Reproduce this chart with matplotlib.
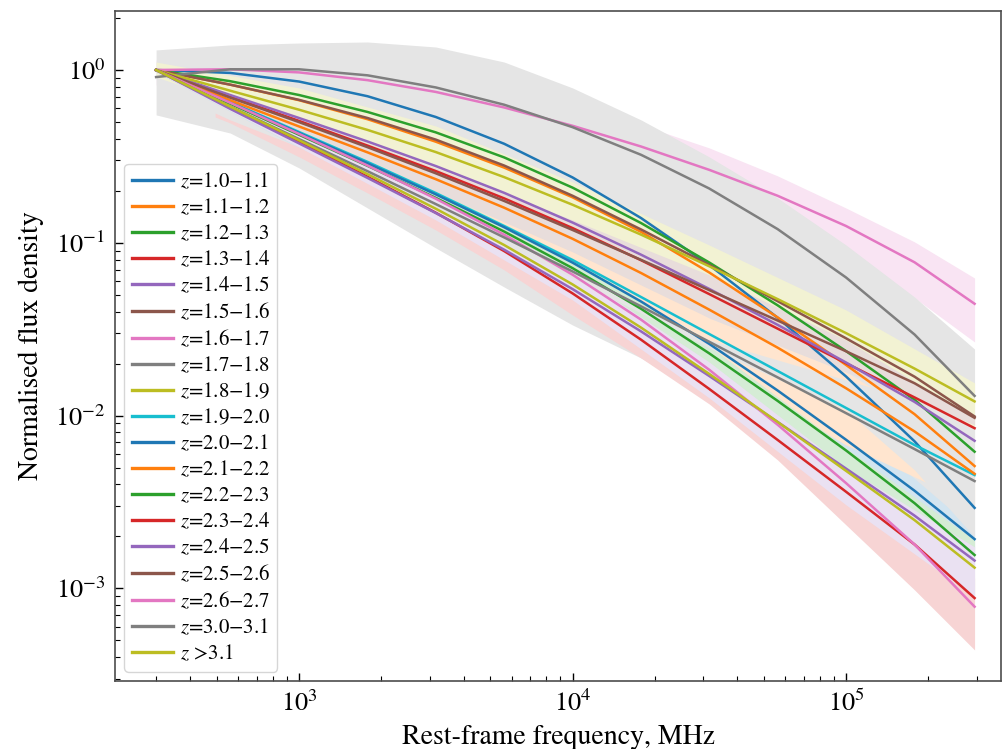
import matplotlib
matplotlib.use('Agg')
import matplotlib.pyplot as plt
import matplotlib.colors as mcolors
import numpy as np

plt.rcParams['font.family'] = 'STIXGeneral'
plt.rcParams['mathtext.fontset'] = 'stix'

# ── Data (log10 of normalised flux density) ───────────────────────────────────
freq_mhz = [300, 560, 1000, 1780, 3160, 5620, 10000, 17800, 31600, 56200,
            100000, 178000, 295000]

z10_11 = [0, -0.017, -0.067, -0.152, -0.272, -0.427, -0.622, -0.857, -1.129, -1.434, -1.774, -2.149, -2.534]
z11_12 = [0, -0.085, -0.175, -0.285, -0.415, -0.565, -0.737, -0.937, -1.172, -1.432, -1.707, -1.992, -2.292]
z12_13 = [0, -0.065, -0.145, -0.243, -0.361, -0.506, -0.681, -0.886, -1.114, -1.362, -1.627, -1.909, -2.209]
z13_14 = [0, -0.155, -0.295, -0.438, -0.585, -0.743, -0.915, -1.101, -1.297, -1.497, -1.697, -1.895, -2.073]
z14_15 = [0, -0.145, -0.278, -0.414, -0.556, -0.711, -0.883, -1.069, -1.267, -1.475, -1.693, -1.921, -2.146]
z15_16 = [0, -0.085, -0.173, -0.278, -0.403, -0.553, -0.728, -0.923, -1.128, -1.338, -1.553, -1.775, -2.005]
z16_17 = [0, 0.004, -0.014, -0.059, -0.127, -0.217, -0.323, -0.443, -0.578, -0.728, -0.903, -1.113, -1.353]
z17_18 = [-0.041, 0.004, 0.004, -0.031, -0.101, -0.201, -0.331, -0.491, -0.686, -0.921, -1.201, -1.531, -1.886]
z18_19 = [0, -0.120, -0.230, -0.347, -0.475, -0.620, -0.780, -0.953, -1.136, -1.326, -1.523, -1.728, -1.918]
z19_20 = [0, -0.185, -0.359, -0.532, -0.712, -0.903, -1.100, -1.314, -1.528, -1.742, -1.956, -2.170, -2.344]
z20_21 = [0, -0.190, -0.365, -0.540, -0.720, -0.910, -1.115, -1.340, -1.585, -1.855, -2.140, -2.435, -2.715]
z21_22 = [0, -0.175, -0.327, -0.477, -0.632, -0.797, -0.977, -1.175, -1.387, -1.607, -1.842, -2.092, -2.337]
z22_23 = [0, -0.195, -0.375, -0.555, -0.740, -0.935, -1.147, -1.382, -1.640, -1.915, -2.202, -2.507, -2.807]
z23_24 = [0, -0.215, -0.415, -0.618, -0.826, -1.048, -1.293, -1.561, -1.846, -2.141, -2.441, -2.746, -3.056]
z24_25 = [0, -0.225, -0.425, -0.625, -0.828, -1.040, -1.268, -1.513, -1.771, -2.037, -2.307, -2.579, -2.839]
z25_26 = [0, -0.160, -0.302, -0.447, -0.598, -0.758, -0.926, -1.099, -1.274, -1.450, -1.628, -1.813, -2.013]
z26_27 = [0, -0.190, -0.370, -0.553, -0.745, -0.953, -1.185, -1.445, -1.735, -2.053, -2.391, -2.746, -3.106]
z30_31 = [0, -0.212, -0.400, -0.586, -0.776, -0.969, -1.166, -1.368, -1.573, -1.779, -1.986, -2.194, -2.379]
z31_up = [0, -0.212, -0.407, -0.603, -0.803, -1.013, -1.241, -1.491, -1.759, -2.037, -2.320, -2.605, -2.880]

labels = ['1.0\u22121.1', '1.1\u22121.2', '1.2\u22121.3', '1.3\u22121.4', '1.4\u22121.5',
          '1.5\u22121.6', '1.6\u22121.7', '1.7\u22121.8', '1.8\u22121.9', '1.9\u22122.0',
          '2.0\u22122.1', '2.1\u22122.2', '2.2\u22122.3', '2.3\u22122.4', '2.4\u22122.5',
          '2.5\u22122.6', '2.6\u22122.7', '3.0\u22123.1', '>3.1']

# uncertainty bands (log10 upper / lower edges)
band_z16_17_hi = [0.058, 0.069, 0.058, 0.023, -0.035, -0.104, -0.203, -0.318, -0.451, -0.613, -0.799, -0.995, -1.204]
band_z16_17_lo = [-0.087, -0.069, -0.087, -0.145, -0.231, -0.324, -0.451, -0.567, -0.723, -0.903, -1.094, -1.319, -1.574]
band_z17_18_hi = [0.116, 0.145, 0.156, 0.162, 0.133, 0.046, -0.104, -0.289, -0.503, -0.741, -1.013, -1.314, -1.615]
band_z17_18_lo = [-0.260, -0.365, -0.567, -0.799, -1.030, -1.256, -1.476, -1.667, -1.898, -2.188, -2.488, -2.789, -3.067]
red_band_freq = [493, 560, 1000, 1780, 3160, 5620, 10000, 17800, 31600, 56200, 100000, 178000, 295000]
band_z23_24_hi = [-0.249, -0.289, -0.446, -0.648, -0.856, -1.082, -1.319, -1.591, -1.887, -2.188, -2.488, -2.749, -2.940]
band_z23_24_lo = [-0.272, -0.307, -0.503, -0.712, -0.926, -1.157, -1.418, -1.667, -1.933, -2.257, -2.633, -3.009, -3.356]

band_freq = [300, 1000, 3160, 10000, 31600, 100000, 295000]
band_z18_19_hi = [0.046, -0.104, -0.324, -0.648, -1.013, -1.389, -1.811]
band_z18_19_lo = [-0.041, -0.313, -0.590, -0.961, -1.319, -1.690, -2.066]
band_z20_21_hi = [0, -0.365, -0.706, -1.076, -1.528, -2.025, -2.662]
band_z20_21_lo = [-0.012, -0.451, -0.822, -1.244, -1.771, -2.315, -2.865]
band_z21_22_hi = [0, -0.324, -0.625, -0.961, -1.435, -1.748, -2.199]
band_z21_22_lo = [-0.012, -0.405, -0.729, -1.111, -1.707, -2.170, -2.517]
band_z22_23_hi = [0, -0.359, -0.694, -1.088, -1.597, -2.188, -2.720]
band_z22_23_lo = [-0.012, -0.446, -0.839, -1.273, -1.811, -2.373, -2.847]
band_z24_25_hi = [-0.006, -0.336, -0.723, -1.169, -1.690, -2.303, -2.760]
band_z24_25_lo = [-0.012, -0.446, -0.868, -1.331, -1.898, -2.517, -3.049]
band_z25_26_hi = [0, -0.278, -0.567, -0.868, -1.186, -1.563, -2.014]
band_z25_26_lo = [-0.012, -0.382, -0.706, -1.053, -1.435, -1.748, -2.054]
gray_band_freq = [300, 1000, 3160, 10000, 31600, 100000, 178000, 295000]
band_z30_31_hi = [0, -0.394, -0.770, -1.157, -1.562, -1.794, -1.910, -2.083]
band_z30_31_lo = [-0.012, -0.422, -0.810, -1.204, -1.609, -1.968, -2.315, -2.703]

curves = [z10_11, z11_12, z12_13, z13_14, z14_15, z15_16, z16_17, z17_18, z18_19,
          z19_20, z20_21, z21_22, z22_23, z23_24, z24_25, z25_26, z26_27, z30_31, z31_up]

# series index -> (freq, upper, lower)
bands = {
    6:  (freq_mhz, band_z16_17_hi, band_z16_17_lo),
    7:  (freq_mhz, band_z17_18_hi, band_z17_18_lo),
    8:  (band_freq, band_z18_19_hi, band_z18_19_lo),
    10: (band_freq, band_z20_21_hi, band_z20_21_lo),
    11: (band_freq, band_z21_22_hi, band_z21_22_lo),
    12: (band_freq, band_z22_23_hi, band_z22_23_lo),
    13: (red_band_freq, band_z23_24_hi, band_z23_24_lo),
    14: (band_freq, band_z24_25_hi, band_z24_25_lo),
    15: (band_freq, band_z25_26_hi, band_z25_26_lo),
    17: (gray_band_freq, band_z30_31_hi, band_z30_31_lo),
}

colors = plt.rcParams['axes.prop_cycle'].by_key()['color']


def _tint(c, a=0.2):
    r, g, b = mcolors.to_rgb(c)
    return (1 - a + a * r, 1 - a + a * g, 1 - a + a * b)


fig = plt.figure(figsize=(10.02, 7.49), dpi=100)
ax = fig.add_axes([0.1148, 0.0908, 0.8842, 0.8945])

for i, curve in enumerate(curves):
    col = colors[i % len(colors)]
    if i in bands:
        bf, hi, lo = bands[i]
        ax.fill_between(bf, 10 ** np.array(lo), 10 ** np.array(hi),
                        color=_tint(col), lw=0, zorder=1)
    lab = r'$z$' + ('=' if labels[i][0] != '>' else ' ') + labels[i]
    ax.plot(freq_mhz, 10 ** np.array(curve), color=col, lw=1.8,
            label=lab, zorder=3)

ax.set_xscale('log')
ax.set_yscale('log')
ax.set_xlim(212.3, 3.685e5)
ax.set_ylim(2.911e-4, 2.194)

ax.set_xlabel('Rest-frame frequency, MHz', fontsize=20, labelpad=6)
ax.set_ylabel('Normalised flux density', fontsize=20, labelpad=8)
ax.tick_params(which='both', direction='in', labelsize=19, pad=7)
ax.tick_params(which='major', length=6, width=1)
ax.tick_params(which='minor', length=3.5, width=0.8)
for sp in ax.spines.values():
    sp.set_color('0.3')
    sp.set_linewidth(1.2)

leg = ax.legend(loc='lower left', fontsize=15, labelspacing=0.27,
                handlelength=2.0, handletextpad=0.3, borderaxespad=0.45,
                borderpad=0.35)
for h in leg.get_lines():
    h.set_linewidth(2.4)

fig.savefig('out.png', dpi=100)
